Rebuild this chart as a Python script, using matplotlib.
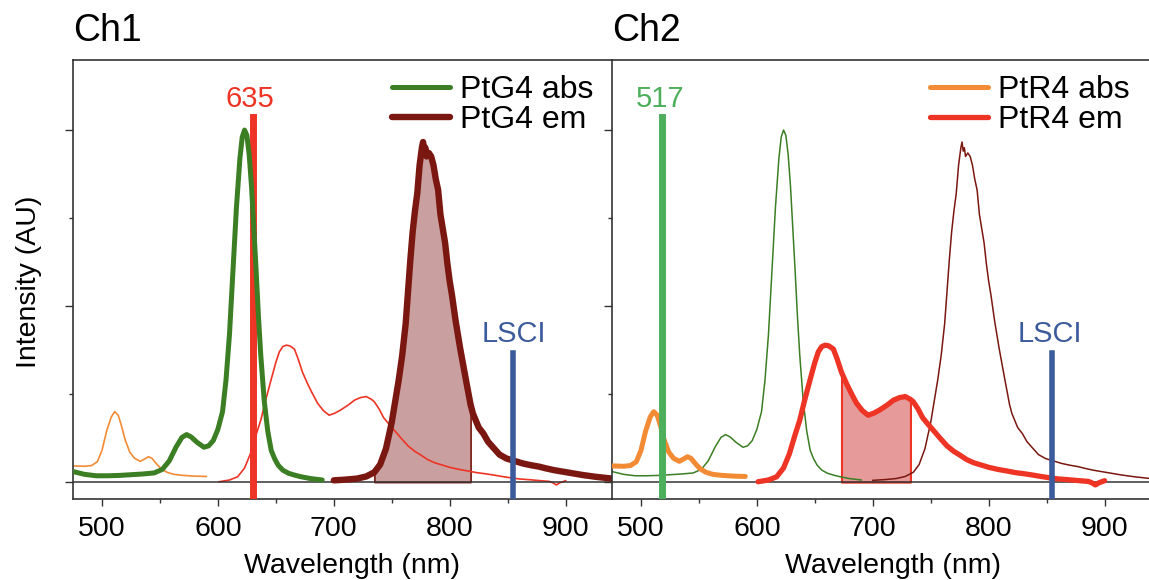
import numpy as np
import matplotlib
matplotlib.use('Agg')
import matplotlib.pyplot as plt

plt.rcParams['font.family'] = ['Liberation Sans', 'DejaVu Sans']

# ---------------- data ----------------
# PtG4 absorption
wl_g4_abs = [475, 485, 495, 505, 515, 525, 535, 545, 552, 558, 564, 569, 573, 577, 582, 588,
             592, 596, 600, 604, 607, 610, 613, 616, 619, 621, 623, 625, 627, 629, 631, 633,
             635, 637, 640, 643, 646, 649, 652, 656, 661, 666, 672, 680, 690]
g4_abs = [0.030, 0.022, 0.018, 0.018, 0.019, 0.021, 0.023, 0.026, 0.036, 0.060, 0.100, 0.127,
          0.135, 0.128, 0.113, 0.099, 0.103, 0.118, 0.150, 0.200, 0.290, 0.420, 0.600, 0.780,
          0.920, 0.980, 1.000, 0.985, 0.930, 0.840, 0.720, 0.600, 0.470, 0.360, 0.230, 0.145,
          0.090, 0.066, 0.048, 0.034, 0.025, 0.020, 0.015, 0.010, 0.006]

# PtG4 emission
wl_g4_em = [700, 710, 720, 728, 735, 740, 745, 750, 753, 756, 759, 762, 764, 766, 768, 770,
            772, 774, 776, 777, 778, 779, 780, 782, 784, 786, 788, 790, 792, 794, 796, 798,
            800, 802, 805, 809, 814, 818, 820, 825, 829, 833, 837, 843, 849, 856, 863, 870,
            877, 883, 890, 897, 906, 915, 926, 940]
g4_em = [0.005, 0.007, 0.010, 0.016, 0.028, 0.050, 0.095, 0.170, 0.230, 0.290, 0.360, 0.450,
         0.540, 0.630, 0.710, 0.770, 0.820, 0.900, 0.950, 0.966, 0.940, 0.950, 0.925, 0.935,
         0.925, 0.900, 0.860, 0.830, 0.760, 0.720, 0.680, 0.620, 0.570, 0.530, 0.460, 0.380,
         0.290, 0.220, 0.195, 0.155, 0.138, 0.115, 0.100, 0.078, 0.067, 0.060, 0.053, 0.048,
         0.044, 0.039, 0.034, 0.030, 0.025, 0.020, 0.015, 0.010]

# PtR4 absorption
wl_r4_abs = [475, 485, 491, 496, 500, 504, 508, 511, 514, 517, 520, 524, 528, 533, 537, 540,
             543, 547, 551, 556, 562, 570, 580, 590]
r4_abs = [0.046, 0.045, 0.047, 0.058, 0.090, 0.145, 0.185, 0.200, 0.190, 0.158, 0.120, 0.085,
          0.068, 0.059, 0.066, 0.072, 0.068, 0.052, 0.038, 0.028, 0.022, 0.019, 0.017, 0.016]

# PtR4 emission
wl_r4_em = [601, 610, 617, 623, 628, 633, 637, 641, 646, 650, 653, 656, 659, 662, 666, 669,
            673, 677, 681, 686, 691, 696, 701, 706, 712, 718, 723, 728, 732.5, 735, 739, 743,
            748, 752, 758, 764, 770, 775, 781, 787, 794, 800, 808, 815, 823, 830, 838, 845,
            853, 860, 868, 875, 882, 886, 889, 892, 895, 900]
r4_em = [0.001, 0.006, 0.015, 0.040, 0.080, 0.135, 0.176, 0.230, 0.292, 0.340, 0.370, 0.385,
         0.389, 0.387, 0.378, 0.352, 0.312, 0.282, 0.255, 0.224, 0.203, 0.190, 0.196, 0.205,
         0.218, 0.233, 0.240, 0.243, 0.235, 0.228, 0.208, 0.183, 0.163, 0.148, 0.125, 0.103,
         0.087, 0.077, 0.064, 0.055, 0.048, 0.042, 0.036, 0.032, 0.027, 0.024, 0.020, 0.016,
         0.012, 0.009, 0.007, 0.005, 0.003, 0.002, -0.002, -0.008, -0.002, 0.004]

# excitation / LSCI markers
ex_ch1, ex_ch1_label, ex_ch1_top = 630.5, '635', 1.037
ex_ch2, ex_ch2_label, ex_ch2_top = 518.5, '517', 1.037
lsci_wl, lsci_top = 855, 0.366

# integration windows
win_ch1 = (735, 818)
win_ch2 = (673, 732.5)

# ---------------- style ----------------
C_G4ABS = '#3b7e23'
C_G4EM = '#7a1710'
C_G4FILL = '#c9a09f'
C_R4ABS = '#f38b35'
C_R4EM = '#ee3425'
C_R4FILL = '#e69a9a'
C_EX2 = '#4daf5c'
C_LSCI = '#3c5b9c'
C_AX = '#333333'

W, H = 1149, 580
fig = plt.figure(figsize=(W / 100, H / 100), dpi=100)
ax1 = fig.add_axes([73 / W, (H - 499) / H, (612 - 73) / W, (499 - 60) / H])
ax2 = fig.add_axes([612 / W, (H - 499) / H, (1149 - 612) / W, (499 - 60) / H])

YLO, YHI = -0.048, 1.199


def frac(v):
    return (v - YLO) / (YHI - YLO)


def style(ax, xmax):
    ax.set_xlim(475, xmax)
    ax.set_ylim(YLO, YHI)
    ax.set_xticks([500, 600, 700, 800, 900])
    ax.set_xticks([550, 650, 750, 850], minor=True)
    ax.set_yticks([0, 0.5, 1.0])
    ax.set_yticks([0.25, 0.75], minor=True)
    ax.tick_params(axis='x', which='major', length=5, width=1, color=C_AX,
                   labelsize=20.5, pad=7)
    ax.tick_params(axis='x', which='minor', length=3, width=1, color=C_AX)
    ax.tick_params(axis='y', which='major', length=6, width=1, color=C_AX, labelleft=False)
    ax.tick_params(axis='y', which='minor', length=3, width=1, color=C_AX)
    for s in ax.spines.values():
        s.set_color(C_AX)
        s.set_linewidth(1.2)
    ax.spines['right'].set_visible(False)
    ax.axhline(0, color=C_AX, lw=1.1, zorder=2.5)
    ax.set_xlabel('Wavelength (nm)', fontsize=20.5)


style(ax1, 940)
style(ax2, 938.3)

LEG = dict(loc='upper right', frameon=False, fontsize=23, handlelength=1.82,
           handletextpad=0.31, labelspacing=0.0, borderpad=0, borderaxespad=0)

# ---------------- Ch1 ----------------
x = np.array(wl_g4_em)
y = np.array(g4_em)
m = (x >= win_ch1[0]) & (x <= win_ch1[1])
ax1.fill_between(x[m], y[m], 0, facecolor=C_G4FILL, edgecolor=C_G4EM, lw=1.2, zorder=1)
ax1.plot(wl_r4_abs, r4_abs, color=C_R4ABS, lw=1.2, zorder=2)
ax1.plot(wl_r4_em, r4_em, color=C_R4EM, lw=1.2, zorder=2)
ax1.axvline(ex_ch1, ymin=0, ymax=frac(ex_ch1_top), color=C_R4EM, lw=5, zorder=3)
lg1, = ax1.plot(wl_g4_abs, g4_abs, color=C_G4ABS, lw=3.6, zorder=4, solid_capstyle='round')
ld1, = ax1.plot(wl_g4_em, g4_em, color=C_G4EM, lw=4.6, zorder=4, solid_capstyle='round')
ax1.axvline(lsci_wl, ymin=0, ymax=frac(lsci_top), color=C_LSCI, lw=4, zorder=5)
ax1.text(627.6, 1.065, ex_ch1_label, color=C_R4EM, fontsize=21, ha='center', va='baseline')
ax1.text(855, 0.399, 'LSCI', color=C_LSCI, fontsize=21, ha='center', va='baseline')
ax1.legend([lg1, ld1], ['PtG4 abs', 'PtG4 em'], bbox_to_anchor=(0.965, 0.966), **LEG)
ax1.set_title('Ch1', loc='left', fontsize=27, pad=14)
ax1.set_ylabel('Intensity (AU)', fontsize=20.5)
ax1.yaxis.set_label_coords(-0.058, 0.494)
ax1.xaxis.set_label_coords(0.5176, -0.122)

# ---------------- Ch2 ----------------
x = np.array(wl_r4_em)
y = np.array(r4_em)
m = (x >= win_ch2[0]) & (x <= win_ch2[1])
ax2.fill_between(x[m], y[m], 0, facecolor=C_R4FILL, edgecolor=C_R4EM, lw=1.5, zorder=1)
ax2.plot(wl_g4_abs, g4_abs, color=C_G4ABS, lw=1.1, zorder=2)
ax2.plot(wl_g4_em, g4_em, color=C_G4EM, lw=1.1, zorder=2)
lo2, = ax2.plot(wl_r4_abs, r4_abs, color=C_R4ABS, lw=3.6, zorder=4, solid_capstyle='round')
lr2, = ax2.plot(wl_r4_em, r4_em, color=C_R4EM, lw=3.8, zorder=4, solid_capstyle='round')
ax2.axvline(ex_ch2, ymin=0, ymax=frac(ex_ch2_top), color=C_EX2, lw=5, zorder=5)
ax2.axvline(lsci_wl, ymin=0, ymax=frac(lsci_top), color=C_LSCI, lw=4, zorder=5)
ax2.text(516.4, 1.065, ex_ch2_label, color=C_EX2, fontsize=21, ha='center', va='baseline')
ax2.text(852.6, 0.399, 'LSCI', color=C_LSCI, fontsize=21, ha='center', va='baseline')
ax2.legend([lo2, lr2], ['PtR4 abs', 'PtR4 em'], bbox_to_anchor=(0.9646, 0.966), **LEG)
ax2.set_title('Ch2', loc='left', fontsize=27, pad=14)
ax2.xaxis.set_label_coords(0.523, -0.122)

fig.savefig('out.png', dpi=100)
